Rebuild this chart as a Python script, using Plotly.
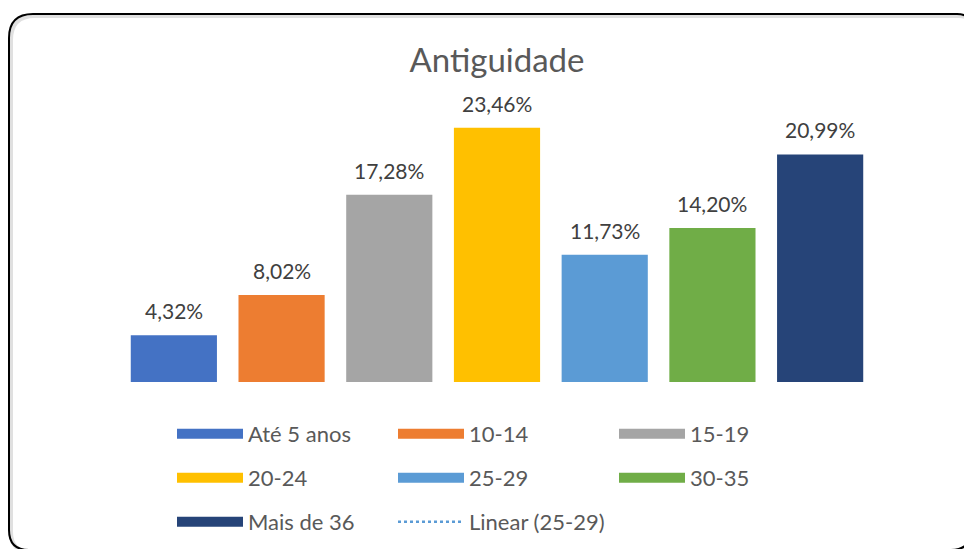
import plotly.graph_objects as go

categories = ["Até 5 anos", "10-14", "15-19", "20-24", "25-29", "30-35", "Mais de 36"]
values = [4.32, 8.02, 17.28, 23.46, 11.73, 14.20, 20.99]
colors = ["#4472C4", "#ED7D31", "#A5A5A5", "#FFC000", "#5B9BD5", "#70AD47", "#264478"]
trend_label = "Linear (25-29)"
title_text = "Antiguidade"

# page offset of the figure inside the browser body
OX, OY = 8, 8
W, H = 972, 549
# target screenshot coordinates of the plot area
PX0, PX1, PY0, PY1 = 120, 874, 111, 382
L, T = PX0 - OX, PY0 - OY
R, B = W - (PX1 - OX), H - (PY1 - OY)
PW, PH = PX1 - PX0, PY1 - PY0

def px(x):
    return (x - PX0) / PW

def py(y):
    return (PY1 - y) / PH

FONT = "Lato"
fig = go.Figure()

for i, (c, v, col) in enumerate(zip(categories, values, colors)):
    fig.add_trace(go.Bar(x=[c], y=[v], marker=dict(color=col, line=dict(width=0)),
                         width=0.8, showlegend=False, hoverinfo="skip"))

legend_rows = ["legend", "legend", "legend", "legend2", "legend2", "legend2", "legend3"]
for i, (c, v, col) in enumerate(zip(categories, values, colors)):
    fig.add_trace(go.Scatter(x=[c], y=[v], mode="lines", name=c,
                             line=dict(color=col, width=10),
                             legend=legend_rows[i], hoverinfo="skip"))

fig.add_trace(go.Scatter(x=[categories[4]], y=[values[4]], mode="lines", name=trend_label,
                         line=dict(color="#5B9BD5", width=2.5, dash="dot"),
                         legend="legend3", hoverinfo="skip"))

for c, v in zip(categories, values):
    fig.add_annotation(x=c, y=v, text=f"{v:.2f}".replace(".", ",") + "%",
                       showarrow=False, yanchor="bottom", yshift=10,
                       font=dict(family=FONT, size=21, color="#404040"))

def rounded(x0, y0, x1, y1, r1, r2, r3, r4):
    pts = [
        f"M {px(x0 + r1)},{py(y0)}",
        f"L {px(x1 - r2)},{py(y0)}",
        f"Q {px(x1)},{py(y0)} {px(x1)},{py(y0 + r2)}",
        f"L {px(x1)},{py(y1 - r3)}",
        f"Q {px(x1)},{py(y1)} {px(x1 - r3)},{py(y1)}",
        f"L {px(x0 + r4)},{py(y1)}",
        f"Q {px(x0)},{py(y1)} {px(x0)},{py(y1 - r4)}",
        f"L {px(x0)},{py(y0 + r1)}",
        f"Q {px(x0)},{py(y0)} {px(x0 + r1)},{py(y0)}",
        "Z",
    ]
    return " ".join(pts)

fig.add_shape(type="path", xref="paper", yref="paper",
              path=rounded(11, 16, 973, 552, 24, 14, 20, 20),
              line=dict(color="rgba(0,0,0,0.12)", width=4))
fig.add_shape(type="path", xref="paper", yref="paper",
              path=rounded(9, 14, 971, 550, 24, 14, 20, 20),
              line=dict(color="#000000", width=2))

leg_common = dict(orientation="h", xanchor="left", yanchor="middle",
                  entrywidth=140, entrywidthmode="pixels", itemwidth=66,
                  font=dict(family=FONT, size=22, color="#595959"),
                  bgcolor="rgba(0,0,0,0)", borderwidth=0, tracegroupgap=0)

fig.update_layout(
    width=W, height=H,
    margin=dict(l=L, r=R, t=T, b=B, autoexpand=False),
    paper_bgcolor="white", plot_bgcolor="white",
    barmode="overlay",
    title=dict(text=title_text, x=(497 - OX) / W, xanchor="center",
               y=1 - (60 - OY) / H, yanchor="middle",
               font=dict(family=FONT, size=33, color="#595959")),
    xaxis=dict(type="category", categoryorder="array", categoryarray=categories,
               range=[-0.5, 6.5], showticklabels=False, showline=False, showgrid=False,
               zeroline=False, fixedrange=True),
    yaxis=dict(range=[0, 25], visible=False, showgrid=False, zeroline=False),
    legend=dict(x=px(172), y=py(434), **leg_common),
    legend2=dict(x=px(172), y=py(478), **leg_common),
    legend3=dict(x=px(172), y=py(522), **leg_common),
    showlegend=True,
)

fig.write_html("out.html")
